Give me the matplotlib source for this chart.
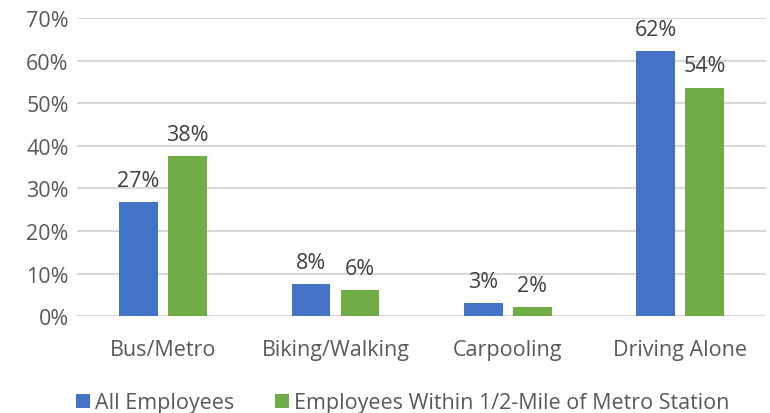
import numpy as np
import matplotlib.pyplot as plt
from matplotlib.ticker import PercentFormatter

categories = ['Bus/Metro', 'Biking/Walking', 'Carpooling', 'Driving Alone']
all_emp = [26.8, 7.6, 3.05, 62.3]
near_metro = [37.7, 6.1, 2.25, 53.7]
all_labels = ['27%', '8%', '3%', '62%']
near_labels = ['38%', '6%', '2%', '54%']
series_names = ['All Employees', 'Employees Within 1/2-Mile of Metro Station']

plt.rcParams['font.family'] = ['Open Sans', 'DejaVu Sans']
FS = 15.5

fig = plt.figure(figsize=(7.7, 4.14), dpi=100)
ax = fig.add_axes([0.1, 0.2335, 0.895, 0.7205])

x = np.arange(len(categories))
w = 0.225
off = 0.142
b1 = ax.bar(x - off, all_emp, w, color='#4472C4', label=series_names[0], zorder=3)
b2 = ax.bar(x + off, near_metro, w, color='#70AD47', label=series_names[1], zorder=3)

for bars, labs in ((b1, all_labels), (b2, near_labels)):
  for r, t in zip(bars, labs):
    ax.annotate(t, (r.get_x() + r.get_width() / 2, r.get_height()),
                xytext=(0, 8), textcoords='offset points',
                ha='center', va='bottom', fontsize=FS, color='#404040')

ax.set_xlim(-0.5, len(categories) - 0.5)
ax.set_ylim(0, 70)
ax.set_yticks(range(0, 71, 10))
ax.yaxis.set_major_formatter(PercentFormatter(decimals=0))
ax.grid(axis='y', color='#D9D9D9', linewidth=1.5, zorder=0)
for s in ax.spines.values():
  s.set_visible(False)
ax.tick_params(axis='both', length=0, labelsize=FS, colors='#595959', pad=6)
ax.set_xticks(x)
ax.set_xticklabels(categories)
ax.tick_params(axis='x', pad=16)

fig.legend(loc='lower left', bbox_to_anchor=(0.073, -0.048), ncol=2, frameon=False,
           fontsize=FS, labelcolor='#595959', handlelength=0.65, handleheight=0.65,
           handletextpad=0.25, columnspacing=1.9)

plt.savefig('out.png', dpi=100)
